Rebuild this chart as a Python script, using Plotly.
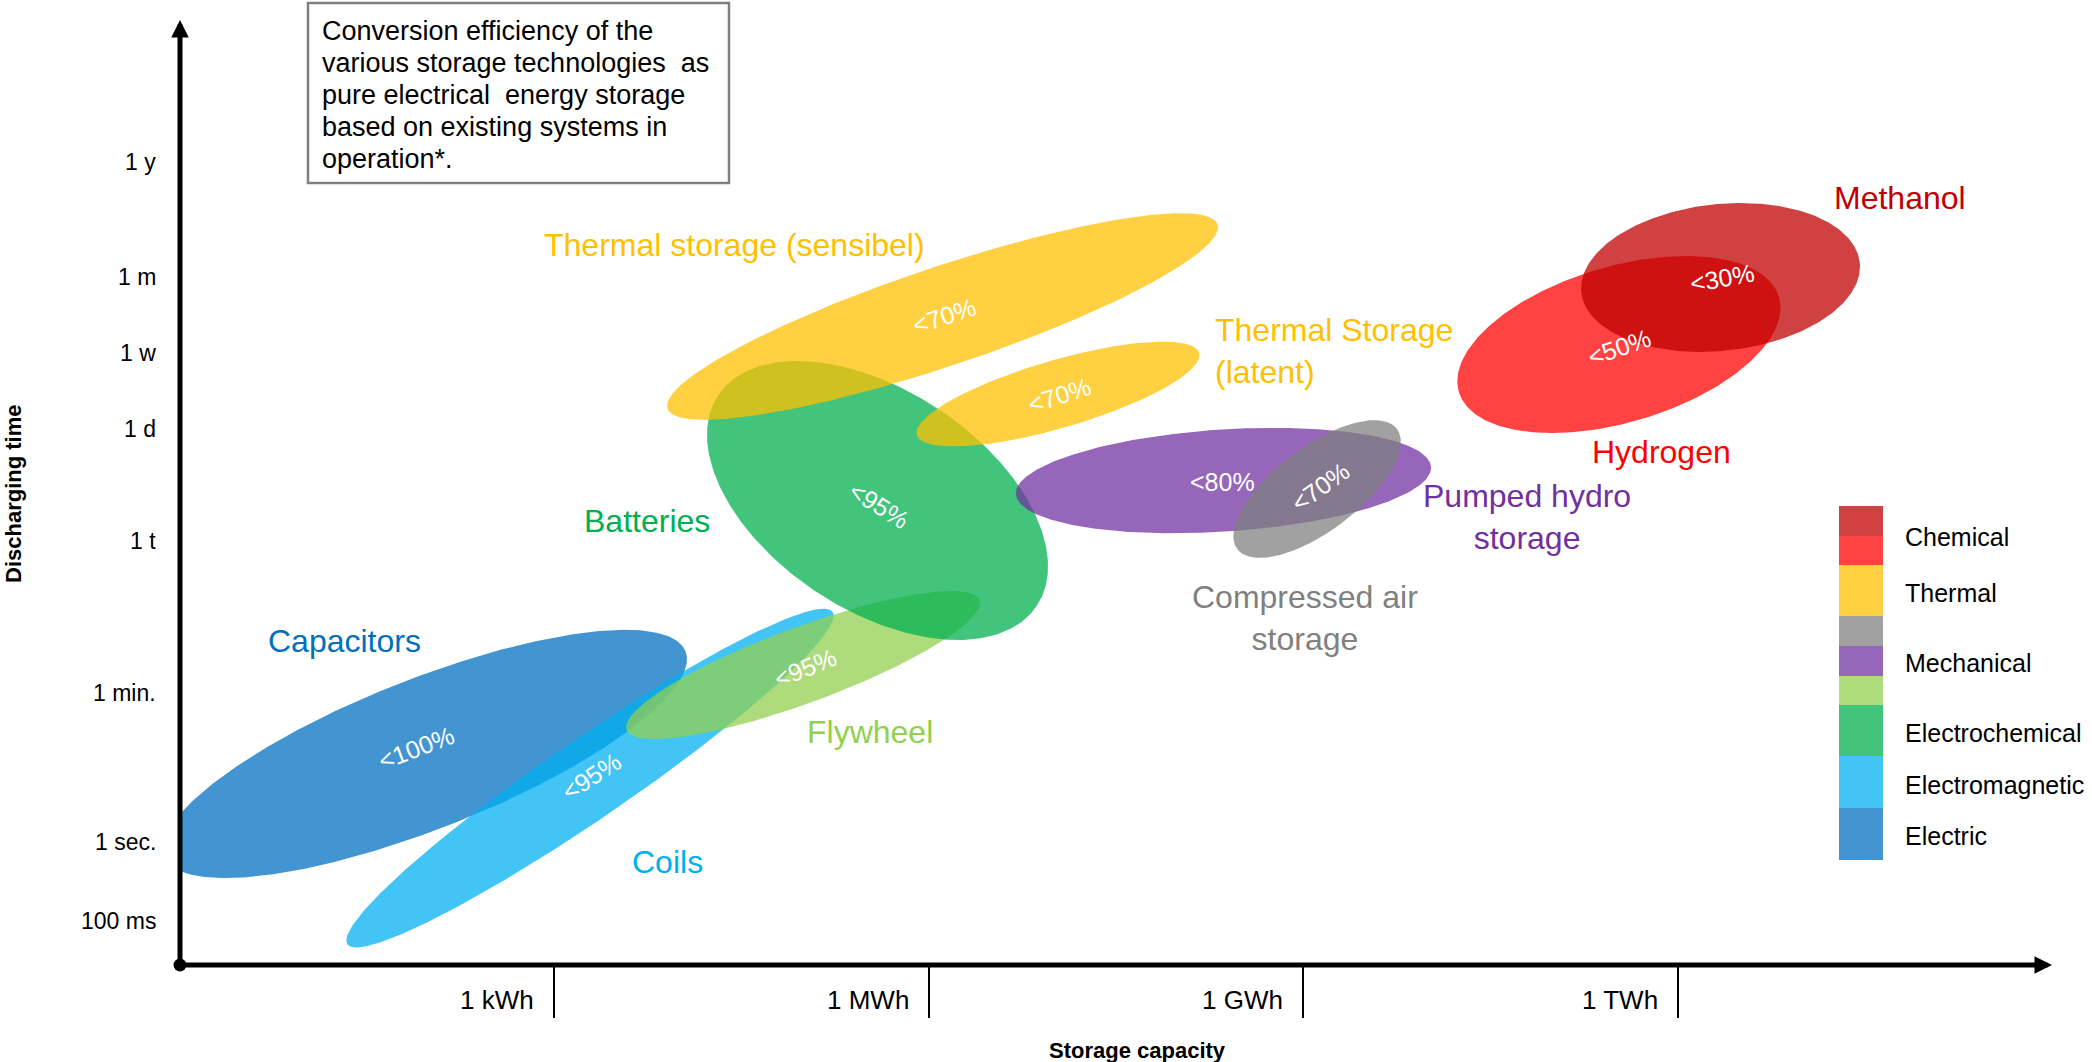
import numpy as np
import plotly.graph_objects as go

# ---------------- data ----------------
technologies = ["Capacitors", "Coils", "Flywheel", "Batteries",
                "Thermal storage (sensibel)", "Thermal Storage<br>(latent)",
                "Pumped hydro<br>storage", "Compressed air<br>storage",
                "Hydrogen", "Methanol"]
tech_colors = ["#0070C0", "#00B0F0", "#92D050", "#00B050", "#FFC000",
               "#FFC000", "#7030A0", "#808080", "#FF0000", "#C00000"]
efficiency = ["<100%", "<95%", "<95%", "<95%", "<70%", "<70%",
              "<80%", "<70%", "<50%", "<30%"]

# ellipse centre: storage capacity (log10 Wh) / discharging time (schematic axis units)
cap_center = [1.963, 3.285, 4.992, 5.589, 6.110, 7.035, 8.361, 9.111, 11.530, 12.344]
time_center = [1.691, 1.498, 2.404, 3.722, 5.196, 4.575, 3.882, 3.814, 4.972, 5.509]
major_half = [2.244, 2.356, 1.506, 1.530, 2.324, 1.178, 1.667, 0.801, 1.338, 1.122]
minor_half = [0.601, 0.320, 0.304, 0.881, 0.397, 0.272, 0.409, 0.337, 0.625, 0.588]
tilt_deg = [21.5, 34.4, 20.2, -33.4, 18.5, 16.2, 3.75, 37.0, 16.5, 6.1]

# technology name labels
name_x = [1.322, 3.910, 5.529, 3.742, 4.447, 8.277, 10.793, 9.014, 11.867, 13.782]
name_y = [2.596, 0.825, 1.867, 3.558, 5.769, 4.920, 3.586, 2.784, 4.111, 6.146]
name_anchor = ["center", "center", "center", "center", "center", "left",
               "center", "center", "center", "center"]

# efficiency labels
eff_x = [1.891, 3.301, 5.008, 5.601, 6.122, 7.051, 8.357, 9.135, 11.538, 12.356]
eff_y = [1.740, 1.514, 2.380, 3.686, 5.200, 4.567, 3.870, 3.830, 4.952, 5.505]
eff_angle = [-21, -33, -22, 32, -18, -18, 0, -36, -19, -10]

cap_tick_pos = [3, 6, 9, 12]
cap_tick_labels = ["1 kWh", "1 MWh", "1 GWh", "1 TWh"]
time_tick_pos = [0.356, 0.986, 2.179, 3.397, 4.298, 4.904, 5.513, 6.434]
time_tick_labels = ["100 ms", "1 sec.", "1 min.", "1 t", "1 d", "1 w", "1 m", "1 y"]

legend_labels = ["Chemical", "Thermal", "Mechanical", "Electrochemical",
                 "Electromagnetic", "Electric"]
legend_swatches = [["#C00000", "#FF0000"], ["#FFC000"],
                   ["#808080", "#7030A0", "#92D050"], ["#00B050"],
                   ["#00B0F0"], ["#0070C0"]]

note_lines = ["Conversion efficiency of the",
              "various storage technologies  as",
              "pure electrical  energy storage",
              "based on existing systems in",
              "operation*."]

# ---------------- layout constants ----------------
W, H = 2092, 1062
ML, MR, MT, MB = 180, 30, 0, 97
PX = 124.8                      # pixels per axis unit (both axes)
XMAX = (W - ML - MR) / PX
YMAX = (H - MT - MB) / PX
ALPHA = 0.74
FONT = "Liberation Sans, Arial, sans-serif"


def rgba(hexc, a=ALPHA):
    h = hexc.lstrip("#")
    return "rgba(%d,%d,%d,%.2f)" % (int(h[0:2], 16), int(h[2:4], 16), int(h[4:6], 16), a)


def px2x(p):
    return (p - ML) / PX


def px2y(p):
    return (H - MB - p) / PX


fig = go.Figure()

t = np.linspace(0, 2 * np.pi, 361)
for i, name in enumerate(technologies):
    th = np.radians(tilt_deg[i])
    ux = major_half[i] * np.cos(t)
    uy = minor_half[i] * np.sin(t)
    xs = cap_center[i] + ux * np.cos(th) - uy * np.sin(th)
    ys = time_center[i] + ux * np.sin(th) + uy * np.cos(th)
    fig.add_trace(go.Scatter(x=xs, y=ys, mode="lines", fill="toself",
                             fillcolor=rgba(tech_colors[i]),
                             line=dict(width=0, color=rgba(tech_colors[i], 0)),
                             hoverinfo="skip", showlegend=False,
                             name=name.replace("<br>", " ")))

# origin dot
fig.add_trace(go.Scatter(x=[0], y=[0], mode="markers",
                         marker=dict(size=13, color="black"),
                         cliponaxis=False, hoverinfo="skip", showlegend=False))

ann = []
shapes = []

# technology labels
for i, name in enumerate(technologies):
    ann.append(dict(x=name_x[i], y=name_y[i], xref="x", yref="y", text=name,
                    showarrow=False, xanchor=name_anchor[i], yanchor="middle",
                    align=name_anchor[i],
                    font=dict(family=FONT, size=32, color=tech_colors[i])))

# efficiency labels
for i, e in enumerate(efficiency):
    ann.append(dict(x=eff_x[i], y=eff_y[i], xref="x", yref="y",
                    text=e.replace("<", "&lt;"), showarrow=False,
                    textangle=eff_angle[i],
                    font=dict(family=FONT, size=25, color="white")))

# axis arrows
ann.append(dict(x=px2x(2052), y=0, ax=0, ay=0, xref="x", yref="y",
                axref="x", ayref="y", showarrow=True, arrowhead=2,
                arrowsize=0.7, arrowwidth=5, arrowcolor="black", text=""))
ann.append(dict(x=0, y=px2y(20), ax=0, ay=0, xref="x", yref="y",
                axref="x", ayref="y", showarrow=True, arrowhead=2,
                arrowsize=0.7, arrowwidth=5, arrowcolor="black", text=""))

# x tick labels
for v, lab in zip(cap_tick_pos, cap_tick_labels):
    ann.append(dict(x=v, y=0, xref="x", yref="paper", text=lab, showarrow=False,
                    xanchor="right", yanchor="middle", xshift=-18, yshift=-35,
                    font=dict(family=FONT, size=26, color="black")))

# y tick labels
for v, lab in zip(time_tick_pos, time_tick_labels):
    ann.append(dict(x=0, y=v, xref="paper", yref="y", text=lab, showarrow=False,
                    xanchor="right", yanchor="middle", xshift=-22,
                    font=dict(family=FONT, size=23, color="black")))

# axis titles
ann.append(dict(x=0, y=px2y(494), xref="paper", yref="y", text="<b>Discharging time</b>",
                showarrow=False, textangle=-90, xshift=-167,
                xanchor="center", yanchor="middle",
                font=dict(family=FONT, size=22, color="black")))
ann.append(dict(x=px2x(1137), y=0, xref="x", yref="paper", text="<b>Storage capacity</b>",
                showarrow=False, yshift=-85, xanchor="center", yanchor="middle",
                font=dict(family=FONT, size=22, color="black")))

# note box
shapes.append(dict(type="rect", xref="x", yref="y",
                   x0=px2x(308), x1=px2x(729), y0=px2y(3), y1=px2y(183),
                   line=dict(color="#7F7F7F", width=2.5), fillcolor="white", layer="above"))
for k, line in enumerate(note_lines):
    ann.append(dict(x=px2x(320), y=px2y(31 + 32 * k), xref="x", yref="y", text=line,
                    showarrow=False, xanchor="left", yanchor="middle",
                    font=dict(family=FONT, size=27, color="black")))

# legend
seg_tops = [506, 536, 565, 616, 646, 676, 705, 756, 808]
seg_bots = [536, 565, 616, 646, 676, 705, 756, 808, 860]
label_y = [537, 593, 663, 733, 785, 836]
k = 0
for g, lab in enumerate(legend_labels):
    for c in legend_swatches[g]:
        shapes.append(dict(type="rect", xref="x", yref="y",
                           x0=px2x(1839), x1=px2x(1883),
                           y0=px2y(seg_tops[k]), y1=px2y(seg_bots[k]),
                           line=dict(width=0), fillcolor=rgba(c), layer="above"))
        k += 1
    ann.append(dict(x=px2x(1903), y=px2y(label_y[g]), xref="x", yref="y", text=lab,
                    showarrow=False, xanchor="left", yanchor="middle",
                    font=dict(family=FONT, size=25, color="black")))

fig.update_layout(
    width=W, height=H,
    margin=dict(l=ML, r=MR, t=MT, b=MB, pad=0),
    paper_bgcolor="white", plot_bgcolor="white",
    showlegend=False,
    annotations=ann, shapes=shapes,
    xaxis=dict(range=[0, XMAX], showgrid=False, zeroline=False, showline=False,
               tickvals=cap_tick_pos, ticks="outside", ticklen=52, tickwidth=2,
               tickcolor="black", showticklabels=False, fixedrange=True),
    yaxis=dict(range=[0, YMAX], showgrid=False, zeroline=False, showline=False,
               showticklabels=False, ticks="", fixedrange=True),
)

fig.write_html("out.html",
               config={"displayModeBar": False},
               post_script="document.body.style.margin='0';document.body.style.overflow='hidden';")
